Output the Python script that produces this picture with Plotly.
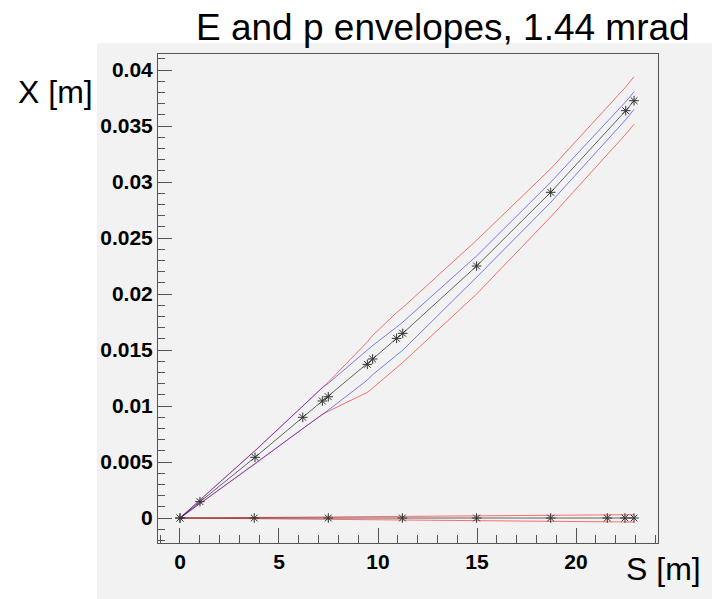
import plotly.graph_objects as go

# Tilted orbit: central trajectory with its two envelope pairs
s_tilt = [0, 1.01, 3.79, 6.2, 7.19, 7.49, 9.46, 9.73, 10.94, 11.25, 14.98, 18.72, 22.51, 22.93]
x_tilt = [0, 0.00146, 0.00542, 0.00899, 0.01045, 0.01083, 0.01372, 0.0142,
          0.01604, 0.01649, 0.0225, 0.02908, 0.03637, 0.03726]
x_tilt_red_hi = [0, 0.00163, 0.00602, 0.00999, 0.01165, 0.01213, 0.01572, 0.0163,
                 0.01834, 0.01879, 0.0248, 0.03118, 0.03849, 0.0394]
x_tilt_blue_hi = [0, 0.00161, 0.006, 0.00999, 0.01165, 0.01203, 0.01492, 0.0154,
                  0.01704, 0.01749, 0.0234, 0.02998, 0.03717, 0.03806]
x_tilt_blue_lo = [0, 0.00131, 0.00484, 0.00799, 0.00925, 0.00963, 0.01232, 0.0128,
                  0.01454, 0.01499, 0.0215, 0.02818, 0.03557, 0.03649]
x_tilt_red_lo = [0, 0.00129, 0.00482, 0.00799, 0.00925, 0.00953, 0.01122, 0.0116,
                 0.01344, 0.01389, 0.02, 0.02688, 0.03427, 0.03516]

# On-axis orbit
s_flat = [0, 3.75, 7.49, 11.23, 14.98, 18.72, 21.58, 22.47, 22.93]
x_flat = [0, 0, 0, 0, 0, 0, 0, 0, 0]
x_flat_red_hi = [0, 0.00006, 0.00011, 0.00016, 0.0002, 0.00024, 0.00028, 0.00029, 0.0003]
x_flat_red_lo = [0, -0.00006, -0.00012, -0.00017, -0.00022, -0.00027, -0.00031, -0.00034, -0.00036]

y_ticks = [0, 0.005, 0.01, 0.015, 0.02, 0.025, 0.03, 0.035, 0.04]
y_tick_text = ["0", "0.005", "0.01", "0.015", "0.02", "0.025", "0.03", "0.035", "0.04"]
x_ticks = [0, 5, 10, 15, 20]
x_tick_text = ["0", "5", "10", "15", "20"]

RED = "rgba(255,0,0,0.55)"
BLUE = "rgba(0,0,255,0.5)"
BLACK = "rgba(0,0,0,0.6)"
PANEL = "#f2f2f2"

fig = go.Figure()


def env_line(s, x, color):
    fig.add_trace(go.Scatter(x=s, y=x, mode="lines",
                             line=dict(color=color, width=1),
                             hoverinfo="skip", showlegend=False))


for s, x in [(s_tilt, x_tilt_red_hi), (s_tilt, x_tilt_red_lo),
             (s_flat, x_flat_red_hi), (s_flat, x_flat_red_lo)]:
    env_line(s, x, RED)
for s, x in [(s_tilt, x_tilt_blue_hi), (s_tilt, x_tilt_blue_lo)]:
    env_line(s, x, BLUE)

star = dict(symbol="asterisk-open", size=8, color="#333",
            line=dict(color="#333", width=1))
for s, x in [(s_tilt, x_tilt), (s_flat, x_flat)]:
    fig.add_trace(go.Scatter(x=s, y=x, mode="lines+markers",
                             line=dict(color=BLACK, width=1),
                             marker=star, showlegend=False))

tick_font = dict(family="Liberation Sans", size=21, color="black", weight="bold")
label_font = dict(family="Liberation Sans", size=32, color="black")

fig.update_xaxes(range=[-1.11, 24.14], tickmode="array", tickvals=x_ticks,
                 ticktext=x_tick_text, ticks="inside", ticklen=15, tickwidth=1,
                 tickcolor="#555", showline=True, linecolor="#555", linewidth=1,
                 mirror=True, showgrid=False, zeroline=False, tickfont=tick_font,
                 minor=dict(ticks="inside", ticklen=8, dtick=1, tickcolor="#555",
                            showgrid=False))
fig.update_yaxes(range=[-0.00223, 0.04143], tickmode="array", tickvals=y_ticks,
                 ticktext=y_tick_text, ticks="inside", ticklen=14, tickwidth=1,
                 tickcolor="#555", showline=True, linecolor="#555", linewidth=1,
                 mirror=True, showgrid=False, zeroline=False, tickfont=tick_font,
                 minor=dict(ticks="inside", ticklen=7, dtick=0.001, tickcolor="#555",
                            showgrid=False))

fig.update_layout(
    width=712, height=599,
    margin=dict(l=158, r=54, t=54, b=56),
    paper_bgcolor="white", plot_bgcolor=PANEL,
    shapes=[dict(type="rect", xref="paper", yref="paper",
                 x0=-0.122, x1=1.108, y0=-0.1145, y1=1.0225,
                 fillcolor=PANEL, line=dict(width=0), layer="below")],
    annotations=[
        dict(text="E and p envelopes, 1.44 mrad", xref="paper", yref="paper",
             x=0.57, y=1.055, xanchor="center", yanchor="middle",
             showarrow=False, font=dict(family="Liberation Sans", size=37, color="black")),
        dict(text="X [m]", xref="paper", yref="paper", x=-0.206, y=0.922,
             xanchor="center", yanchor="middle", showarrow=False, font=label_font),
        dict(text="S [m]", xref="paper", yref="paper", x=1.09, y=-0.053,
             xanchor="right", yanchor="middle", showarrow=False, font=label_font),
    ],
)

fig.write_html("out.html")
